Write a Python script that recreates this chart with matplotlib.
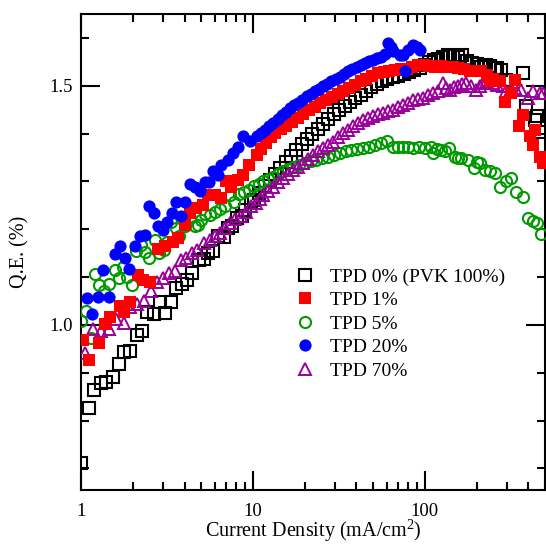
import matplotlib
matplotlib.use('Agg')
import matplotlib.pyplot as plt
from matplotlib.ticker import MultipleLocator, LogLocator, NullFormatter

#-------------------------------------------------------------------------------
# data
#-------------------------------------------------------------------------------

labels = ['TPD 0% (PVK 100%)', 'TPD 1%', 'TPD 5%', 'TPD 20%', 'TPD 70%']

# TPD 0% (PVK 100%)
x_tpd0 = [1.00, 1.11, 1.185, 1.30, 1.40, 1.53, 1.66, 1.79, 1.94, 2.12, 2.26, 2.43, 2.66, 2.90, 3.09,
          3.35, 3.58, 3.87, 4.15, 4.43, 4.83, 5.18, 5.47, 5.85, 6.25, 6.75, 7.17, 7.57, 8.10, 8.63,
          9.05, 9.70, 10.2, 10.9, 11.7, 12.5, 13.4, 14.4, 15.5, 16.6, 17.9, 19.2, 20.6, 22.1, 23.8,
          25.6, 27.5, 29.5, 31.7, 34.1, 36.6, 39.4, 42.3, 45.5, 48.8, 52.5, 56.4, 60.6, 65.1, 70.0,
          75.2, 80.8, 86.8, 93.3, 100, 106, 113, 120, 128, 137, 146, 155, 165, 176, 188, 200, 212,
          226, 240, 255, 262, 278, 297, 373, 387, 436, 447, 477]
y_tpd0 = [0.712, 0.826, 0.864, 0.879, 0.880, 0.891, 0.918, 0.944, 0.946, 0.978, 0.988, 1.028, 1.023, 1.047, 1.026,
          1.047, 1.077, 1.085, 1.094, 1.109, 1.135, 1.138, 1.150, 1.155, 1.186, 1.183, 1.202, 1.207, 1.223, 1.228,
          1.241, 1.256, 1.262, 1.276, 1.290, 1.303, 1.316, 1.328, 1.340, 1.354, 1.366, 1.378, 1.389, 1.400, 1.410,
          1.420, 1.430, 1.440, 1.449, 1.458, 1.466, 1.474, 1.481, 1.489, 1.497, 1.503, 1.509, 1.514, 1.518, 1.521,
          1.524, 1.528, 1.532, 1.538, 1.544, 1.549, 1.553, 1.556, 1.560, 1.565, 1.563, 1.560, 1.565, 1.552, 1.548, 1.545, 1.540,
          1.543, 1.541, 1.538, 1.537, 1.533, 1.513, 1.527, 1.457, 1.429, 1.436, 1.404]

# TPD 1%
x_tpd1 = [1.03, 1.12, 1.27, 1.37, 1.47, 1.68, 1.79, 1.92, 2.14, 2.29, 2.51, 2.80, 3.07, 3.43, 3.66,
          4.00, 4.28, 4.68, 5.12, 5.47, 5.98, 6.54, 7.00, 7.49, 8.17, 8.81, 9.54, 10.5, 11.2, 11.9,
          12.7, 13.5, 14.5, 15.6, 16.8, 18.2, 19.6, 21.2, 22.9, 24.7, 26.7, 28.8, 31.1, 33.6, 36.3,
          39.2, 42.3, 45.7, 49.4, 53.3, 57.6, 62.2, 67.2, 72.5, 78.3, 84.6, 91.3, 98.6, 106, 115,
          124, 134, 145, 156, 169, 182, 197, 212, 230, 239, 250, 273, 292, 318, 334, 354, 373, 408,
          425, 436, 465, 485]
y_tpd1 = [0.969, 0.927, 0.963, 1.002, 1.017, 1.040, 1.028, 1.049, 1.105, 1.094, 1.089, 1.158, 1.164, 1.174, 1.181,
          1.209, 1.234, 1.244, 1.251, 1.272, 1.272, 1.265, 1.300, 1.289, 1.303, 1.314, 1.335, 1.356, 1.368, 1.380,
          1.392, 1.401, 1.410, 1.416, 1.425, 1.433, 1.441, 1.449, 1.456, 1.463, 1.470, 1.477, 1.483, 1.489, 1.495,
          1.502, 1.509, 1.515, 1.521, 1.526, 1.528, 1.530, 1.532, 1.534, 1.536, 1.540, 1.543, 1.544, 1.542, 1.540,
          1.541, 1.540, 1.539, 1.537, 1.534, 1.530, 1.531, 1.530, 1.523, 1.509, 1.515, 1.509, 1.467, 1.485, 1.513, 1.415, 1.439, 1.394,
          1.377, 1.408, 1.352, 1.338]

# TPD 5%
x_tpd5 = [1.00, 1.07, 1.14, 1.20, 1.27, 1.36, 1.45, 1.57, 1.66, 1.75, 1.86, 1.98, 2.10, 2.24, 2.36,
          2.48, 2.68, 2.84, 3.02, 3.18, 3.35, 3.55, 3.74, 4.00, 4.28, 4.58, 4.79, 5.01, 5.23, 5.60,
          5.98, 6.40, 6.84, 7.31, 7.76, 8.35, 8.93, 9.54, 10.2, 10.9, 11.5, 12.3, 13.1, 14.0, 15.0,
          16.0, 17.1, 18.5, 20.1, 21.7, 23.4, 25.3, 27.4, 29.6, 32.0, 34.6, 37.4, 40.5, 43.8, 47.4,
          51.3, 55.5, 60.0, 65.4, 70.0, 75.0, 80.0, 85.5, 92.0, 100, 109, 111, 117, 124, 131, 138,
          150, 156, 163, 178, 192, 200, 209, 223, 240, 255, 273, 297, 318, 340, 373, 400, 425, 447, 477]
y_tpd5 = [1.009, 1.030, 0.972, 1.106, 1.084, 1.071, 1.085, 1.114, 1.098, 1.122, 1.101, 1.084, 1.155, 1.167, 1.153,
          1.140, 1.178, 1.151, 1.157, 1.174, 1.216, 1.202, 1.185, 1.206, 1.223, 1.206, 1.209, 1.220, 1.232, 1.230,
          1.237, 1.242, 1.248, 1.272, 1.256, 1.273, 1.277, 1.282, 1.291, 1.295, 1.300, 1.305, 1.310, 1.316, 1.321,
          1.326, 1.331, 1.335, 1.338, 1.342, 1.345, 1.349, 1.352, 1.356, 1.359, 1.363, 1.366, 1.368, 1.370, 1.373,
          1.377, 1.380, 1.385, 1.373, 1.373, 1.373, 1.372, 1.370, 1.371, 1.370, 1.373, 1.359, 1.368, 1.366, 1.363, 1.370,
          1.352, 1.350, 1.349, 1.345, 1.328, 1.340, 1.338, 1.324, 1.321, 1.317, 1.289, 1.300, 1.307, 1.277, 1.268, 1.223, 1.218, 1.213, 1.190]

# TPD 20%
x_tpd20 = [1.09, 1.16, 1.26, 1.34, 1.45, 1.58, 1.68, 1.81, 1.89, 2.07, 2.19, 2.35, 2.48, 2.66, 2.80,
           3.00, 3.18, 3.38, 3.58, 3.80, 4.00, 4.28, 4.58, 4.90, 5.23, 5.54, 5.85, 6.25, 6.54, 7.17,
           7.67, 8.20, 8.80, 9.60, 10.5, 11.1, 11.7, 12.4, 13.1, 13.9, 14.7, 15.5, 16.4, 17.3, 18.3,
           19.4, 20.5, 21.7, 22.9, 24.2, 25.6, 27.1, 28.6, 30.3, 32.0, 33.9, 35.8, 37.9, 40.1, 42.4,
           44.8, 47.4, 50.0, 52.9, 55.9, 58.5, 61.1, 63.5, 65.4, 71.5, 74.7, 76.2, 79.9, 85.5, 90.0, 94.0]
y_tpd20 = [1.056, 1.023, 1.059, 1.115, 1.058, 1.148, 1.164, 1.140, 1.117, 1.165, 1.185, 1.188, 1.249, 1.235, 1.206,
           1.199, 1.216, 1.234, 1.256, 1.227, 1.256, 1.294, 1.289, 1.279, 1.298, 1.298, 1.321, 1.314, 1.335, 1.345,
           1.359, 1.372, 1.394, 1.384, 1.394, 1.401, 1.408, 1.415, 1.422, 1.430, 1.439, 1.446, 1.453, 1.459, 1.464,
           1.471, 1.478, 1.483, 1.488, 1.494, 1.499, 1.504, 1.509, 1.514, 1.519, 1.525, 1.530, 1.535, 1.540, 1.544,
           1.548, 1.551, 1.554, 1.558, 1.561, 1.566, 1.589, 1.580, 1.572, 1.565, 1.565, 1.530, 1.575, 1.586, 1.580, 1.575]

# TPD 70%
x_tpd70 = [1.06, 1.17, 1.31, 1.45, 1.60, 1.77, 1.94, 2.13, 2.32, 2.54, 2.78, 3.00, 3.23, 3.54, 3.80,
           4.09, 4.44, 4.75, 5.18, 5.60, 5.98, 6.40, 6.84, 7.31, 7.89, 8.53, 9.10, 9.74, 10.4, 11.0,
           11.5, 12.3, 13.1, 14.0, 15.0, 16.0, 17.1, 18.3, 19.6, 21.0, 22.5, 24.0, 25.6, 27.3, 29.2,
           31.3, 33.5, 35.8, 38.3, 41.0, 43.8, 46.8, 50.0, 53.5, 57.2, 61.2, 65.4, 70.0, 74.8, 80.0,
           85.5, 91.4, 97.5, 104, 111, 119, 127, 133, 140, 148, 156, 165, 174, 186, 198, 208, 218,
           228, 239, 250, 262, 285, 297, 315, 334, 364, 400, 425, 465, 490]
y_tpd70 = [0.942, 0.991, 0.988, 0.992, 1.012, 1.005, 1.038, 1.044, 1.051, 1.072, 1.089, 1.098, 1.108, 1.112, 1.136,
           1.140, 1.150, 1.157, 1.171, 1.178, 1.186, 1.193, 1.202, 1.213, 1.221, 1.227, 1.237, 1.248, 1.255, 1.263,
           1.272, 1.280, 1.289, 1.298, 1.307, 1.315, 1.324, 1.331, 1.338, 1.347, 1.356, 1.363, 1.370, 1.377, 1.383,
           1.392, 1.401, 1.408, 1.415, 1.422, 1.429, 1.433, 1.436, 1.440, 1.443, 1.447, 1.450, 1.455, 1.460, 1.465,
           1.471, 1.473, 1.474, 1.480, 1.485, 1.490, 1.506, 1.495, 1.492, 1.497, 1.499, 1.503, 1.506, 1.500, 1.492, 1.500, 1.506,
           1.508, 1.513, 1.505, 1.502, 1.499, 1.488, 1.494, 1.495, 1.492, 1.474, 1.488, 1.485, 1.485]

#-------------------------------------------------------------------------------
# plot
#-------------------------------------------------------------------------------

plt.rcParams['font.family'] = ['Liberation Serif', 'DejaVu Serif']
plt.rcParams['mathtext.fontset'] = 'custom'
plt.rcParams['mathtext.rm'] = 'Liberation Serif'
plt.rcParams['mathtext.it'] = 'Liberation Serif:italic'

fig = plt.figure(figsize=(5.46, 5.44), dpi=100)
ax = fig.add_axes([81 / 546, 1 - 490 / 544, 464 / 546, 476 / 544])

ax.plot(x_tpd0, y_tpd0, linestyle='none', marker='s', markersize=8, markerfacecolor='none',
        markeredgecolor='black', markeredgewidth=1.5, label=labels[0], zorder=2)
ax.plot(x_tpd1, y_tpd1, linestyle='none', marker='s', markersize=8.8, color='#ff0000',
        markeredgewidth=0, label=labels[1], zorder=5)
ax.plot(x_tpd5, y_tpd5, linestyle='none', marker='o', markersize=8, markerfacecolor='none',
        markeredgecolor='#009900', markeredgewidth=1.5, label=labels[2], zorder=3)
ax.plot(x_tpd20, y_tpd20, linestyle='none', marker='o', markersize=8.8, color='#0000ff',
        markeredgewidth=0, label=labels[3], zorder=6)
ax.plot(x_tpd70, y_tpd70, linestyle='none', marker='^', markersize=8, markerfacecolor='none',
        markeredgecolor='#990099', markeredgewidth=1.4, label=labels[4], zorder=4)

ax.set_xscale('log')
ax.set_xlim(1, 500)
ax.set_ylim(0.655, 1.65)

ax.set_xticks([1, 10, 100], labels=['1', '10', '100'])
ax.xaxis.set_minor_locator(LogLocator(base=10, subs=range(2, 10), numticks=20))
ax.xaxis.set_minor_formatter(NullFormatter())
ax.yaxis.set_major_locator(MultipleLocator(0.5))
ax.yaxis.set_minor_locator(MultipleLocator(0.1))
ax.set_yticks([1.0, 1.5], labels=['1.0', '1.5'])

ax.tick_params(which='both', direction='in', top=True, right=True, width=1.5, labelsize=13.5)
ax.tick_params(which='major', length=14)
ax.tick_params(which='minor', length=6)
ax.tick_params(axis='x', which='major', pad=9)
ax.tick_params(axis='y', which='major', pad=6)
for spine in ax.spines.values():
    spine.set_linewidth(1.5)

ax.set_xlabel('Current Density (mA/cm$^2$)', fontsize=14.5, labelpad=-1)
ax.set_ylabel('Q.E. (%)', fontsize=14.5, labelpad=14)

ax.legend(loc='upper left', bbox_to_anchor=(0.461, 0.466), frameon=False, fontsize=14,
          numpoints=1, handlelength=1.0, handletextpad=0.8, labelspacing=0.3,
          borderpad=0, borderaxespad=0)

fig.savefig('out.png', dpi=100)
